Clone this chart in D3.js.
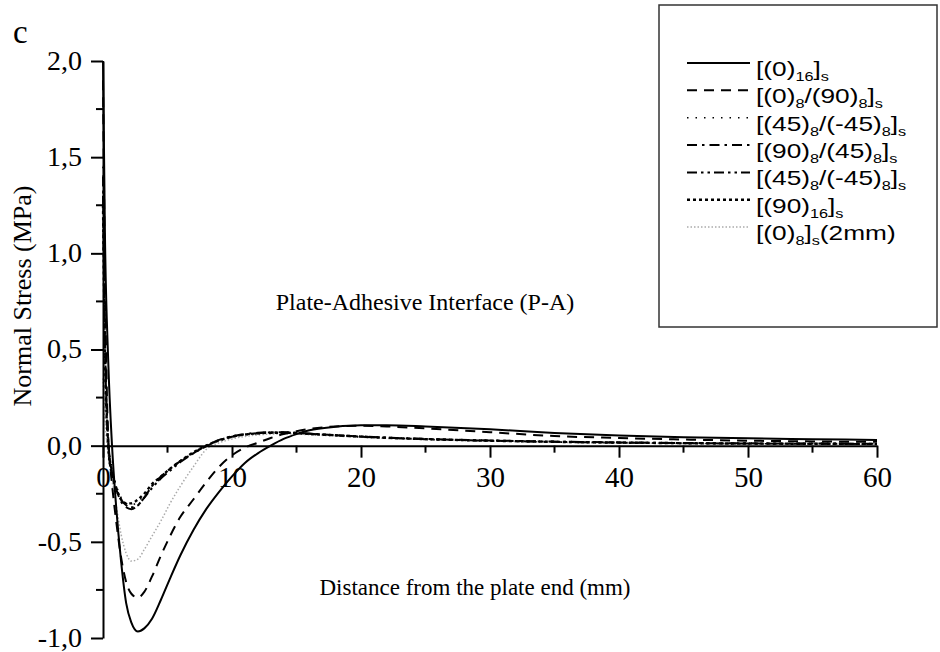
<!DOCTYPE html>
<html><head><meta charset="utf-8">
<script src="https://cdn.jsdelivr.net/npm/d3@7"></script>
<style>body{margin:0;background:#fff} svg{display:block}</style>
</head><body>
<svg id="chart" width="940" height="652"></svg>
<script>
// ---- data ----
const distance = [0, 0.15, 0.4, 0.7, 1.0, 1.4, 1.8, 2.2, 2.7, 3.2, 3.8, 4.5, 5.2, 6, 7, 8, 9, 10, 11, 12, 13, 14, 15, 16, 18, 20, 22, 25, 30, 35, 40, 45, 50, 55, 60];
const s_0_16 = [2.0, 1.1, 0.45, 0.0, -0.3, -0.6, -0.82, -0.92, -0.966, -0.95, -0.9, -0.8, -0.69, -0.57, -0.44, -0.33, -0.24, -0.16, -0.09, -0.04, 0.0, 0.035, 0.06, 0.08, 0.098, 0.106, 0.106, 0.1, 0.085, 0.066, 0.053, 0.044, 0.038, 0.034, 0.03];
const s_0_90 = [1.9, 0.9, 0.05, -0.2, -0.38, -0.58, -0.71, -0.77, -0.79, -0.76, -0.68, -0.57, -0.47, -0.37, -0.28, -0.19, -0.11, -0.05, -0.01, 0.015, 0.04, 0.06, 0.075, 0.087, 0.1, 0.104, 0.1, 0.09, 0.07, 0.05, 0.04, 0.032, 0.026, 0.022, 0.02];
const s_45_m45a = [1.45, 0.6, 0.05, -0.12, -0.2, -0.27, -0.3, -0.31, -0.29, -0.26, -0.21, -0.17, -0.12, -0.08, -0.035, 0.0, 0.025, 0.045, 0.057, 0.063, 0.066, 0.066, 0.064, 0.06, 0.053, 0.046, 0.04, 0.033, 0.025, 0.019, 0.015, 0.012, 0.01, 0.009, 0.008];
const s_90_45 = [1.3, 0.55, 0.02, -0.14, -0.22, -0.29, -0.32, -0.33, -0.31, -0.27, -0.21, -0.16, -0.12, -0.08, -0.04, 0.0, 0.03, 0.048, 0.06, 0.067, 0.07, 0.07, 0.067, 0.063, 0.055, 0.048, 0.042, 0.035, 0.027, 0.021, 0.017, 0.014, 0.012, 0.011, 0.01];
const s_45_m45b = [1.4, 0.58, 0.03, -0.13, -0.21, -0.28, -0.31, -0.32, -0.31, -0.27, -0.22, -0.17, -0.13, -0.085, -0.04, -0.003, 0.027, 0.046, 0.058, 0.065, 0.068, 0.068, 0.066, 0.062, 0.054, 0.047, 0.041, 0.034, 0.026, 0.02, 0.016, 0.013, 0.011, 0.01, 0.009];
const s_90_16 = [1.25, 0.5, 0.0, -0.15, -0.22, -0.28, -0.3, -0.3, -0.28, -0.25, -0.2, -0.16, -0.12, -0.08, -0.035, 0.0, 0.028, 0.047, 0.058, 0.064, 0.067, 0.067, 0.065, 0.061, 0.054, 0.047, 0.041, 0.034, 0.026, 0.02, 0.016, 0.013, 0.011, 0.01, 0.009];
const s_0_2mm = [0.35, 0.15, -0.05, -0.18, -0.3, -0.46, -0.56, -0.6, -0.59, -0.54, -0.47, -0.39, -0.3, -0.21, -0.11, -0.02, 0.015, 0.035, 0.048, 0.056, 0.06, 0.061, 0.06, 0.057, 0.05, 0.044, 0.038, 0.032, 0.024, 0.018, 0.014, 0.011, 0.009, 0.008, 0.007];

const seriesValues = [s_0_16, s_0_90, s_45_m45a, s_90_45, s_45_m45b, s_90_16, s_0_2mm];
// legend labels: [text, isSubscript]
const legendLabels = [
  [["[(0)",0],["16",1],["]",0],["s",1]],
  [["[(0)",0],["8",1],["/(90)",0],["8",1],["]",0],["s",1]],
  [["[(45)",0],["8",1],["/(-45)",0],["8",1],["]",0],["s",1]],
  [["[(90)",0],["8",1],["/(45)",0],["8",1],["]",0],["s",1]],
  [["[(45)",0],["8",1],["/(-45)",0],["8",1],["]",0],["s",1]],
  [["[(90)",0],["16",1],["]",0],["s",1]],
  [["[(0)",0],["8",1],["]",0],["s",1],["(2mm)",0]]
];
const xTicks = [0, 10, 20, 30, 40, 50, 60];
const xMinor = [5, 15, 25, 35, 45, 55];
const yTicks = [-1.0, -0.5, 0.0, 0.5, 1.0, 1.5, 2.0];
const yMinor = [-0.75, -0.25, 0.25, 0.75, 1.25, 1.75];
const xTitle = "Distance from the plate end (mm)";
const yTitle = "Normal Stress (MPa)";
const annotation = "Plate-Adhesive Interface (P-A)";
const panelLabel = "c";

// ---- styles ----
const styles = [
  {dash: null, w: 2, c: "#000"},
  {dash: "10,7", w: 2, c: "#000"},
  {dash: "1.5,7", w: 1.6, c: "#000"},
  {dash: "10,5,2.5,5", w: 2, c: "#000"},
  {dash: "10,4,2.5,4,2.5,4", w: 2, c: "#000"},
  {dash: "3,3", w: 2.4, c: "#000"},
  {dash: "1.5,2", w: 1.5, c: "#aaa"}
];

const svg = d3.select("#chart");
const serif = "'Liberation Serif','Times New Roman',serif";
const sans = "'Liberation Sans',Arial,sans-serif";

const x = d3.scaleLinear().domain([0, 60]).range([103, 877]);
const y = d3.scaleLinear().domain([-1, 2]).range([638, 61]);
const fmt = v => d3.format(".1f")(v).replace(".", ",").replace("−", "-");

// curves
const line = d3.line().x(d => x(d[0])).y(d => y(d[1])).curve(d3.curveMonotoneX);
const order = [6, 2, 5, 4, 3, 1, 0];
order.forEach(i => {
  const st = styles[i];
  svg.append("path")
    .datum(distance.map((d, k) => [d, seriesValues[i][k]]))
    .attr("d", line)
    .attr("fill", "none")
    .attr("stroke", st.c)
    .attr("stroke-width", st.w)
    .attr("stroke-dasharray", st.dash);
});

// x axis at y=0
const xAxisG = svg.append("g").attr("transform", `translate(0,${y(0)})`)
  .call(d3.axisBottom(x).tickValues(xTicks).tickSize(12).tickSizeOuter(0).tickPadding(9).tickFormat(d3.format("d")));
xAxisG.selectAll("line").attr("stroke-width", 2);
xAxisG.select(".domain").attr("stroke-width", 2);
xAxisG.selectAll("text").attr("font-family", serif).attr("font-size", 29).attr("fill", "#000");
xAxisG.selectAll(".minor").data(xMinor).enter().append("line")
  .attr("x1", d => x(d)).attr("x2", d => x(d)).attr("y1", 0).attr("y2", 7)
  .attr("stroke", "#000").attr("stroke-width", 2);

// y axis
const yAxisG = svg.append("g").attr("transform", `translate(${x(0)},0)`)
  .call(d3.axisLeft(y).tickValues(yTicks).tickSize(12).tickSizeOuter(0).tickPadding(9).tickFormat(fmt));
yAxisG.selectAll("line").attr("stroke-width", 2);
yAxisG.select(".domain").attr("stroke-width", 2);
yAxisG.selectAll("text").attr("font-family", serif).attr("font-size", 28).attr("dy", "0.3em").attr("fill", "#000");
yAxisG.selectAll(".minor").data(yMinor).enter().append("line")
  .attr("x1", -7).attr("x2", 0).attr("y1", d => y(d)).attr("y2", d => y(d))
  .attr("stroke", "#000").attr("stroke-width", 2);

// titles
svg.append("text").attr("x", 475).attr("y", 595).attr("text-anchor", "middle")
  .attr("font-family", serif).attr("font-size", 23).text(xTitle);
svg.append("text").attr("transform", "translate(31,296) rotate(-90)").attr("text-anchor", "middle")
  .attr("font-family", serif).attr("font-size", 26).text(yTitle);
svg.append("text").attr("x", 425).attr("y", 310).attr("text-anchor", "middle")
  .attr("font-family", serif).attr("font-size", 24).text(annotation);
svg.append("text").attr("x", 13).attr("y", 43)
  .attr("font-family", serif).attr("font-size", 33).text(panelLabel);

// legend
svg.append("rect").attr("x", 659).attr("y", 5).attr("width", 278).attr("height", 322)
  .attr("fill", "#fff").attr("stroke", "#333").attr("stroke-width", 1.5);
legendLabels.forEach((parts, i) => {
  const ly = 63 + i * 27.35;
  const st = styles[i];
  svg.append("line").attr("x1", 687).attr("x2", 750).attr("y1", ly).attr("y2", ly)
    .attr("stroke", st.c).attr("stroke-width", st.w).attr("stroke-dasharray", st.dash);
  const t = svg.append("text").attr("transform", `translate(756,${ly + 13}) scale(1.25,1)`)
    .attr("font-family", sans).attr("font-size", 21);
  let prevSub = false;
  parts.forEach(([txt, sub]) => {
    const ts = t.append("tspan").text(txt);
    if (sub) { ts.attr("font-size", 13); if (!prevSub) ts.attr("dy", 5); }
    else if (prevSub) ts.attr("dy", -5);
    prevSub = !!sub;
  });
});
</script>
</body></html>
